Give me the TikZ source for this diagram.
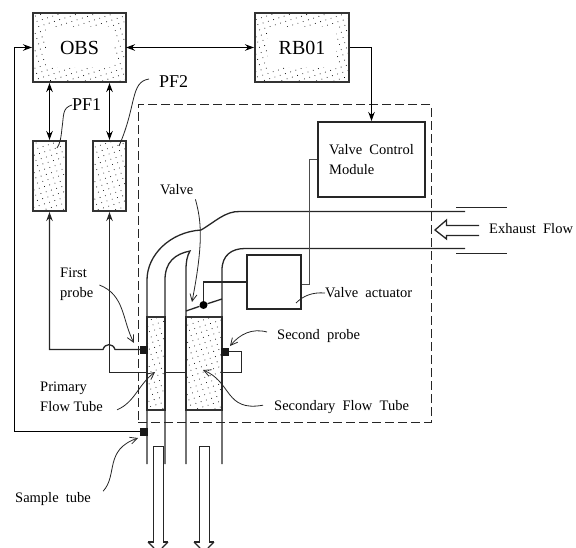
\documentclass[tikz,border=0pt]{standalone}
\usepackage{fontspec}
\setmainfont{Liberation Serif}
\usetikzlibrary{arrows.meta,patterns.meta}
\definecolor{inkgray}{gray}{0.2}
\tikzset{
    dotbox/.style={draw=inkgray,line width=2pt,inner sep=0pt,pattern={Dots[radius=0.5pt,distance=5.5pt,angle=18]},pattern color=black},
    dottube/.style={draw=inkgray,line width=1.2pt,inner sep=0pt,pattern={Dots[radius=0.5pt,distance=5.5pt,angle=18]},pattern color=black},
    plainbox/.style={draw=black!85,line width=2pt,inner sep=0pt},
    clearlabel/.style={fill=white,inner sep=0pt,font=\fontsize{20}{22}\selectfont},
    biglabel/.style={inner sep=0pt,anchor=west,font=\fontsize{18}{20}\selectfont},
    smalllabel/.style={inner sep=0pt,anchor=west,align=left,font=\fontsize{14.5}{19.5}\selectfont},
    probe/.style={fill=black!90,inner sep=0pt,minimum size=8pt},
    wire/.style={line width=1.3pt,draw=black!85},
    tubeline/.style={line width=1.3pt,draw=black!85},
    flow/.style={line width=1.3pt,draw=black!85},
    solidhead/.style={{Stealth[length=9pt,width=6.5pt]}-{Stealth[length=9pt,width=6.5pt]},line width=1.3pt},
    intohead/.style={-{Stealth[length=9pt,width=6.5pt]},line width=1.3pt},
    leader/.style={line width=0.8pt,draw=black!85},
    leadhead/.style={leader,-{Straight Barb[length=7pt,width=7pt]}}
}
\begin{document}
\begin{tikzpicture}[x=1pt,y=-1pt]
    \useasboundingbox (0,0) rectangle (576,548);
    % Analyser boxes
    \node[dotbox,minimum width=93pt,minimum height=69pt] (OBS) at (79.5,47.5) {};
    \node[clearlabel,minimum width=68pt,minimum height=40pt] (OBSlabel) at (OBS) {OBS};
    \node[dotbox,minimum width=94pt,minimum height=69pt] (RB) at (302,47.5) {};
    \node[clearlabel,minimum width=68pt,minimum height=40pt] (RBlabel) at (RB) {RB01};
    \node[dotbox,minimum width=33pt,minimum height=70pt] (PFone) at (49.5,176) {};
    \node[dotbox,minimum width=33pt,minimum height=70pt] (PFtwo) at (109.5,176) {};
    % Dashed enclosure
    \node[draw=black!85,line width=1pt,dash pattern=on 9pt off 4pt,minimum width=293pt,minimum height=317pt,inner sep=0pt] (enclosure) at (284.5,263.5) {};
    % Control boxes
    \node[plainbox,minimum width=107pt,minimum height=75pt,align=left,font=\fontsize{14.5}{20}\selectfont] (VCM) at (371.5,159.5) {Valve\ \ Control\\Module};
    \node[plainbox,minimum width=54pt,minimum height=54pt] (actuator) at (274,282) {};
    % Flow tube sections
    \node[dottube,minimum width=18pt,minimum height=93pt] (primary) at (156,363.5) {};
    \node[dottube,minimum width=36pt,minimum height=93pt] (secondary) at (204,363.5) {};
    % Tube walls
    \draw[tubeline] (147,464) -- (147,280) .. controls (147,255) and (170,232) .. (201,230)
        .. controls (215,222) and (225,211) .. (240,211.5) -- (465,211.5);
    \draw[tubeline] (165,464) -- (165,280) .. controls (165,262) and (175,254) .. (190,251)
        .. controls (187,256) and (186,262) .. (186,270) -- (186,464);
    \draw[tubeline] (222,464) -- (222,270) .. controls (222,255) and (232,248.5) .. (245,248.5) -- (465,248.5);
    % Exhaust inlet
    \draw[tubeline] (456,207.5) -- (507,207.5);
    \draw[tubeline] (456,253.5) -- (507,253.5);
    \draw[flow] (479,225.5) -- (446.5,225.5) -- (446.5,220) -- (435,230) -- (446.5,239) -- (446.5,235.5) -- (479,235.5);
    % Outlet arrows
    \draw[flow] (148,542) -- (153.5,542) -- (153.5,446.5) -- (163.5,446.5) -- (163.5,542) -- (168,542);
    \draw[flow] (148,542) -- (154,548);
    \draw[flow] (168,542) -- (162,548);
    \draw[flow] (194,542) -- (199.5,542) -- (199.5,446.5) -- (209.5,446.5) -- (209.5,542) -- (214,542);
    \draw[flow] (194,542) -- (200,548);
    \draw[flow] (214,542) -- (208,548);
    % Probes
    \node[probe] (firstprobe) at (144,349.5) {};
    \node[probe] (secondprobe) at (225,351.5) {};
    \node[probe] (sampleprobe) at (144,431.5) {};
    % Valve flap and links
    \node[circle,fill=black,inner sep=0pt,minimum size=8pt] (pivot) at (203.5,305) {};
    \draw[tubeline] (186,311) -- (pivot) -- (222,299);
    \draw[wire] (pivot) -- (pivot |- actuator) -- (actuator);
    \draw[wire,black!70] (VCM.west |- 0,159.5) -- (309.5,159.5) -- (309.5,284.5) -- (actuator.east |- 0,284.5);
    % Data lines
    \draw[solidhead] (OBS) ++(46.5,0) -- (RB.west);
    \draw[solidhead] (OBS.south -| PFone) -- (PFone.north);
    \draw[solidhead] (OBS.south -| PFtwo) -- (PFtwo.north);
    \draw[intohead] (RB.east) -| (VCM.north);
    \draw[intohead] (sampleprobe) -- (14.5,431.5) |- (OBS.west);
    % Probe lines
    \draw[intohead,wire] (firstprobe) -- (115,349.5) .. controls (113,343) and (105,343) .. (103,349.5) -| (PFone.south);
    \draw[intohead,wire] (primary.west |- 0,372.5) -| (PFtwo.south);
    \draw[wire] (primary.east |- 0,372.5) -- (secondary.west |- 0,372.5);
    \draw[wire] (secondary.east |- 0,372.5) -- (241.5,372.5) |- (secondprobe);
    % Labels
    \node[biglabel] (PFonelabel) at (72,105) {PF1};
    \node[biglabel] (PFtwolabel) at (159,82) {PF2};
    \node[smalllabel] (valvelabel) at (160,190) {Valve};
    \node[smalllabel] (firstlabel) at (60,284) {First\\probe};
    \node[smalllabel] (secondlabel) at (277,336) {Second\ \ probe};
    \node[smalllabel] (actuatorlabel) at (325,293) {Valve\ \ actuator};
    \node[smalllabel] (exhaustlabel) at (489,229) {Exhaust\ \ Flow};
    \node[smalllabel] (primarylabel) at (40,397) {Primary\\Flow Tube};
    \node[smalllabel] (secondarylabel) at (274,407) {Secondary\ \ Flow\ \ Tube};
    \node[smalllabel] (samplelabel) at (15,499) {Sample\ \ tube};
    % Leaders
    \draw[leader] (PFonelabel.west) .. controls (62,108) and (64,115) .. (62,128) .. controls (61,138) and (60,144) .. (57,148);
    \draw[leader] (PFtwolabel.west) ++(-10,-3) .. controls (130,82) and (137,105) .. (119,146);
    \draw[leadhead] (valvelabel.south east) ++(2,4) .. controls (201,220) and (204,240) .. (192,302);
    \draw[leadhead] (firstlabel.east) ++(6,1) .. controls (125,295) and (122,320) .. (134,343);
    \draw[leadhead] (secondlabel.west) ++(-10,-4) .. controls (252,328) and (240,334) .. (230,346);
    \draw[leader] (actuatorlabel.west) .. controls (312,292) and (303,296) .. (296,303);
    \draw[leadhead] (primarylabel.south east) ++(14,-2) .. controls (135,402) and (138,385) .. (155,372);
    \draw[leadhead] (secondarylabel.north west) ++(-11,5) .. controls (225,412) and (232,382) .. (203,370);
    \draw[leadhead] (samplelabel.north east) ++(12,-1) .. controls (118,475) and (104,450) .. (138,438);
\end{tikzpicture}
\end{document}
